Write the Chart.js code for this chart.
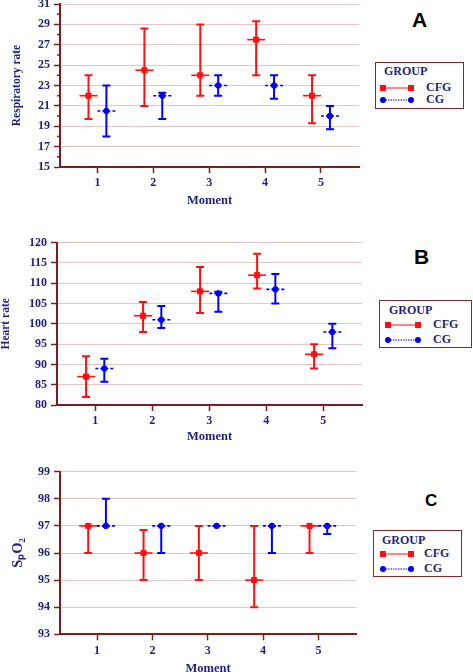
<!DOCTYPE html>
<html>
<head>
<meta charset="utf-8">
<script src="https://cdn.jsdelivr.net/npm/chart.js@4/dist/chart.umd.min.js"></script>
<style>
  body { margin: 0; width: 473px; height: 672px; overflow: hidden; background: #fff; position: relative; }
  canvas { position: absolute; left: 0; }
  .letter { position: absolute; font-family: "Liberation Sans", sans-serif; font-weight: bold; line-height: 1; color: #000; }
  .legend { position: absolute; border: 1.5px solid #7b2c2c; box-sizing: border-box; font: bold 12px "Liberation Serif", serif; color: #1f1f80; }
  .legend div, .legend svg { position: absolute; }
</style>
</head>
<body>
<canvas id="chartA" width="370" height="225" style="top:-8px"></canvas>
<canvas id="chartB" width="370" height="220" style="top:230px"></canvas>
<canvas id="chartC" width="370" height="222" style="top:460px"></canvas>

<div class="letter" style="left:412px;top:9px;font-size:21px">A</div>
<div class="letter" style="left:414px;top:246px;font-size:21px">B</div>
<div class="letter" style="left:425px;top:492px;font-size:17px">C</div>

<script>
const moments = [1, 2, 3, 4, 5];
const groups = ["CFG", "CG"];

// A: respiratory rate (mean, lower, upper)
const respCFG = [22, 24.5, 24, 27.5, 22];
const respCFGLow = [19.7, 21, 22, 24, 19.3];
const respCFGHigh = [24, 28.6, 29, 29.3, 24];
const respCG = [20.5, 22, 23, 23, 20];
const respCGLow = [18, 19.7, 22, 21.7, 18.7];
const respCGHigh = [23, 22.3, 24, 24, 21];

// B: heart rate
const hrCFG = [87, 102, 108, 112, 92.5];
const hrCFGLow = [82, 98, 102.7, 108.7, 89];
const hrCFGHigh = [92, 105.4, 114, 117.3, 95];
const hrCG = [89, 101, 107.5, 108.5, 98];
const hrCGLow = [85.7, 99, 103, 105, 94];
const hrCGHigh = [91.4, 104.4, 107.9, 112.3, 100];

// C: SpO2
const spoCFG = [97, 96, 96, 95, 97];
const spoCFGLow = [96, 95, 95, 94, 96];
const spoCFGHigh = [97, 96.85, 97, 97, 97];
const spoCG = [97, 97, 97, 97, 97];
const spoCGLow = [97, 96, 97, 96, 96.7];
const spoCGHigh = [98, 97, 97, 97, 97];

const navy = '#1f1f80';
const maroon = '#7b1e1e';
const gridPink = '#e3c7c7';
const red = '#ff1010';
const blue = '#0000ff';

// draws the vertical bars, caps and the short mean line under each marker
const errorBars = {
  id: 'errorBars',
  beforeDatasetsDraw(chart) {
    const { ctx, scales: { x, y } } = chart;
    chart.data.datasets.forEach(ds => {
      ctx.save();
      ctx.strokeStyle = ds.borderColor;
      ctx.lineWidth = 2;
      ds.data.forEach(p => {
        const px = x.getPixelForValue(p.x);
        const lo = y.getPixelForValue(p.lo);
        const hi = y.getPixelForValue(p.hi);
        const mid = y.getPixelForValue(p.y);
        ctx.setLineDash([]);
        ctx.beginPath();
        ctx.moveTo(px, lo); ctx.lineTo(px, hi);
        ctx.moveTo(px - 4, lo); ctx.lineTo(px + 4, lo);
        ctx.moveTo(px - 4, hi); ctx.lineTo(px + 4, hi);
        ctx.stroke();
        ctx.lineWidth = 1.6;
        ctx.setLineDash(ds.meanDash);
        ctx.beginPath();
        ctx.moveTo(px - 9, mid); ctx.lineTo(px + 9, mid);
        ctx.stroke();
        ctx.lineWidth = 2;
      });
      ctx.restore();
    });
  }
};

// short unlabelled ticks halfway between the labelled ones (panel A)
const minorTicks = {
  id: 'minorTicks',
  afterDraw(chart, args, opts) {
    if (!opts.enabled) return;
    const { ctx, scales: { y } } = chart;
    ctx.save();
    ctx.strokeStyle = maroon;
    ctx.lineWidth = 1.5;
    for (let i = 0; i < y.ticks.length - 1; i++) {
      const v = (y.ticks[i].value + y.ticks[i + 1].value) / 2;
      const py = y.getPixelForValue(v);
      ctx.beginPath();
      ctx.moveTo(y.right - 3, py); ctx.lineTo(y.right, py);
      ctx.stroke();
    }
    ctx.restore();
  }
};

function series(mean, low, high, shift) {
  return moments.map((m, i) => ({ x: m + shift, y: mean[i], lo: low[i], hi: high[i] }));
}

function makeChart(id, p) {
  new Chart(document.getElementById(id), {
    type: 'scatter',
    data: {
      datasets: [
        {
          label: groups[0],
          data: series(p.cfg, p.cfgLow, p.cfgHigh, -0.16),
          borderColor: red, backgroundColor: red,
          pointStyle: 'rect', pointRadius: 3.6, meanDash: []
        },
        {
          label: groups[1],
          data: series(p.cg, p.cgLow, p.cgHigh, 0.16),
          borderColor: blue, backgroundColor: blue,
          pointStyle: 'circle', pointRadius: 2.8, meanDash: [3, 2]
        }
      ]
    },
    options: {
      responsive: false,
      animation: false,
      layout: { padding: { top: p.padTop, right: p.padRight, left: 0, bottom: 0 } },
      plugins: {
        legend: { display: false },
        tooltip: { enabled: false },
        minorTicks: { enabled: !!p.minor }
      },
      scales: {
        x: {
          type: 'linear',
          min: 0.33, max: 5.68,
          afterBuildTicks: s => { s.ticks = moments.map(v => ({ value: v })); },
          afterFit: s => { s.height = p.xHeight; },
          border: { color: maroon, width: 2 },
          grid: { drawOnChartArea: false, tickColor: maroon, tickLength: 6, tickWidth: 1.5 },
          ticks: { color: navy, padding: 3, font: { family: 'Liberation Serif', weight: 'bold', size: 12 } },
          title: {
            display: true, text: 'Moment', color: navy,
            padding: { top: 0, bottom: p.titleBottom },
            font: { family: 'Liberation Serif', weight: 'bold', size: 12.5 }
          }
        },
        y: {
          min: p.min, max: p.max,
          ticks: { stepSize: p.step, color: navy, padding: 4, font: { family: 'Liberation Serif', weight: 'bold', size: 12 } },
          afterFit: s => { s.width = p.yWidth; },
          border: { color: maroon, width: 2 },
          grid: { color: gridPink, lineWidth: 1, tickColor: maroon, tickLength: 6, tickWidth: 1.5 },
          title: {
            display: true, text: p.yTitle, color: navy,
            padding: { top: p.yTitlePad, bottom: 0 },
            font: { family: 'Liberation Serif', weight: 'bold', size: p.yTitleSize || 11.5 }
          }
        }
      }
    },
    plugins: [errorBars, minorTicks]
  });
}

makeChart('chartA', {
  cfg: respCFG, cfgLow: respCFGLow, cfgHigh: respCFGHigh,
  cg: respCG, cgLow: respCGLow, cgHigh: respCGHigh,
  min: 15, max: 31, step: 2, minor: true, yTitle: 'Respiratory rate',
  padTop: 12, padRight: 11, xHeight: 50, yWidth: 60, titleBottom: 9, yTitlePad: 10
});

makeChart('chartB', {
  cfg: hrCFG, cfgLow: hrCFGLow, cfgHigh: hrCFGHigh,
  cg: hrCG, cgLow: hrCGLow, cgHigh: hrCGHigh,
  min: 80, max: 120, step: 5, yTitle: 'Heart rate',
  padTop: 12.7, padRight: 8, xHeight: 45, yWidth: 57, titleBottom: 6, yTitlePad: -1
});

makeChart('chartC', {
  cfg: spoCFG, cfgLow: spoCFGLow, cfgHigh: spoCFGHigh,
  cg: spoCG, cgLow: spoCGLow, cgHigh: spoCGHigh,
  min: 93, max: 99, step: 1, yTitle: 'SₚO₂', yTitleSize: 14.5,
  padTop: 11.7, padRight: 14, xHeight: 47.7, yWidth: 60, titleBottom: 6, yTitlePad: 10
});

// legends
function legendBox(b) {
  const box = document.createElement('div');
  box.className = 'legend';
  box.style.cssText = `left:${b.left}px;top:${b.top}px;width:${b.w}px;height:${b.h}px`;
  const head = document.createElement('div');
  head.textContent = 'GROUP';
  head.style.cssText = `left:${b.textX0}px;top:${b.rows[0] - 8}px`;
  box.appendChild(head);
  groups.forEach((g, i) => {
    const cy = b.rows[i + 1];
    const col = i === 0 ? red : blue;
    const ns = 'http://www.w3.org/2000/svg';
    const svg = document.createElementNS(ns, 'svg');
    svg.setAttribute('width', b.lineW + 8);
    svg.setAttribute('height', 10);
    svg.style.left = (b.lineX - 4) + 'px';
    svg.style.top = (cy - 5) + 'px';
    const line = document.createElementNS(ns, 'line');
    line.setAttribute('x1', 4); line.setAttribute('x2', b.lineW + 4);
    line.setAttribute('y1', 5); line.setAttribute('y2', 5);
    line.setAttribute('stroke', col);
    line.setAttribute('stroke-width', 1);
    if (i === 1) line.setAttribute('stroke-dasharray', '1.5 1');
    svg.appendChild(line);
    [4, b.lineW + 4].forEach(cx => {
      let m;
      if (i === 0) {
        m = document.createElementNS(ns, 'rect');
        m.setAttribute('x', cx - 3); m.setAttribute('y', 2);
        m.setAttribute('width', 6); m.setAttribute('height', 6);
      } else {
        m = document.createElementNS(ns, 'circle');
        m.setAttribute('cx', cx); m.setAttribute('cy', 5); m.setAttribute('r', 3);
      }
      m.setAttribute('fill', col);
      svg.appendChild(m);
    });
    box.appendChild(svg);
    const t = document.createElement('div');
    t.textContent = g;
    t.style.cssText = `left:${b.textX}px;top:${cy - 8}px`;
    box.appendChild(t);
  });
  document.body.appendChild(box);
}

legendBox({ left: 375, top: 62, w: 89, h: 47, textX0: 8, rows: [9, 25, 37], lineX: 7, lineW: 28, textX: 50 });
legendBox({ left: 379, top: 300, w: 93, h: 48, textX0: 9, rows: [10, 24, 39], lineX: 8, lineW: 30, textX: 53 });
legendBox({ left: 373, top: 530, w: 89, h: 47, textX0: 8, rows: [10, 23, 38], lineX: 9, lineW: 28, textX: 50 });
</script>
</body>
</html>
